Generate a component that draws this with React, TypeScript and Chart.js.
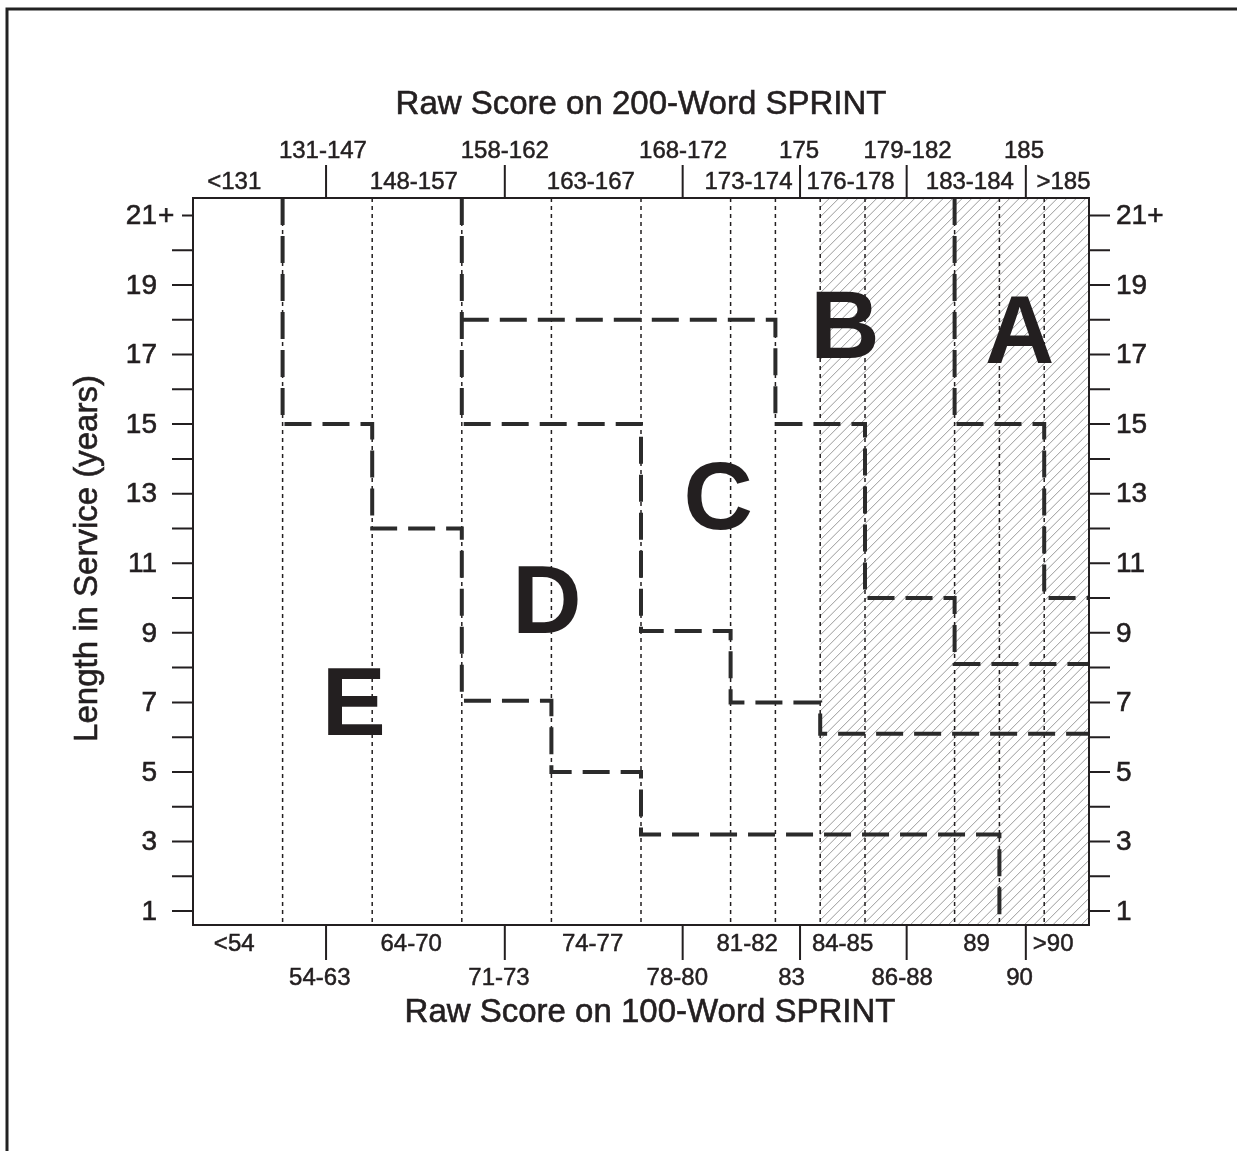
import React, { useEffect, useRef } from "react";
import { Chart, registerables } from "chart.js";

Chart.register(...registerables);

// ---- scale ranges (x: half-column units of the score scale, y: years of service)
const xRange = [0, 20];
const yRange = [0.6, 21.5];

// ---- y axis
const yTickValues = [1, 3, 5, 7, 9, 11, 13, 15, 17, 19, 21];
const yTickLabels = ["1", "3", "5", "7", "9", "11", "13", "15", "17", "19", "21+"];
const yMinorTicks = [2, 4, 6, 8, 10, 12, 14, 16, 18, 20];

// ---- score column boundaries (dotted) and hatched zone
const gridColumns = [2, 4, 6, 8, 10, 12, 13, 14, 15, 17, 18, 19];
const hatchZone = [14, 20];

// ---- score axes (top: 200-word SPRINT, bottom: 100-word SPRINT)
const scoreTicks = [2.97, 6.96, 10.93, 13.55, 15.93, 18.59];
const top200AtTicks = ["131-147", "158-162", "168-172", "175", "179-182", "185"];
const top200AtTicksPos = [2.9, 6.96, 10.94, 13.53, 15.95, 18.55];
const top200Between = ["<131", "148-157", "163-167", "173-174", "176-178", "183-184", ">185"];
const top200BetweenPos = [0.92, 4.93, 8.88, 12.4, 14.68, 17.34, 19.43];
const bottom100AtTicks = ["54-63", "71-73", "78-80", "83", "86-88", "90"];
const bottom100AtTicksPos = [2.83, 6.83, 10.81, 13.36, 15.83, 18.45];
const bottom100Between = ["<54", "64-70", "74-77", "81-82", "84-85", "89", ">90"];
const bottom100BetweenPos = [0.92, 4.87, 8.92, 12.37, 14.5, 17.49, 19.2];

// ---- category boundaries (score column, years)
const boundaryED = [
  { x: 2, y: 21.5 }, { x: 2, y: 15 }, { x: 4, y: 15 }, { x: 4, y: 12 }, { x: 6, y: 12 },
  { x: 6, y: 7.05 }, { x: 8, y: 7.05 }, { x: 8, y: 5 }, { x: 10, y: 5 }, { x: 10, y: 3.2 },
  { x: 18, y: 3.2 }, { x: 18, y: 0.6 },
];
const boundaryDC = [
  { x: 6, y: 21.5 }, { x: 6, y: 15 }, { x: 10, y: 15 }, { x: 10, y: 9.05 }, { x: 12, y: 9.05 },
  { x: 12, y: 7 }, { x: 14, y: 7 }, { x: 14, y: 6.1 }, { x: 20, y: 6.1 },
];
const boundaryCB = [
  { x: 6, y: 18 }, { x: 13, y: 18 }, { x: 13, y: 15 }, { x: 15, y: 15 }, { x: 15, y: 10 },
  { x: 17, y: 10 }, { x: 17, y: 8.1 }, { x: 20, y: 8.1 },
];
const boundaryBA = [
  { x: 17, y: 21.5 }, { x: 17, y: 15 }, { x: 19, y: 15 }, { x: 19, y: 10 }, { x: 20, y: 10 },
];

// ---- category letters
const regionNames = ["A", "B", "C", "D", "E"];
const regionX = [18.45, 14.55, 11.72, 7.9, 3.59];
const regionY = [17.6, 17.75, 12.82, 9.84, 6.91];

// ---- titles
const titleTop = "Raw Score on 200-Word SPRINT";
const titleBottom = "Raw Score on 100-Word SPRINT";
const titleLeft = "Length in Service (years)";

const INK = "#231f20";
const FONT = "'Liberation Sans', Arial, Helvetica, sans-serif";

function heavyText(ctx: CanvasRenderingContext2D, s: string, px: number, py: number) {
  ctx.fillText(s, px, py);
  ctx.strokeText(s, px, py);
}

const overlayPlugin = {
  id: "sprintOverlay",
  beforeDatasetsDraw(chart: any) {
    const { ctx, chartArea: a } = chart;
    const x = chart.scales.x;
    const hx0 = x.getPixelForValue(hatchZone[0]);
    const hx1 = x.getPixelForValue(hatchZone[1]);
    ctx.save();
    ctx.beginPath();
    ctx.rect(hx0, a.top, hx1 - hx0, a.bottom - a.top);
    ctx.clip();
    ctx.strokeStyle = "#9a9a9a";
    ctx.lineWidth = 1;
    const h = a.bottom - a.top;
    for (let sx = hx0 - h; sx < hx1 + h; sx += 9.5) {
      ctx.beginPath();
      ctx.moveTo(sx, a.bottom);
      ctx.lineTo(sx + h, a.top);
      ctx.stroke();
    }
    ctx.restore();

    ctx.save();
    ctx.setLineDash([4, 4]);
    ctx.lineWidth = 1.5;
    ctx.strokeStyle = INK;
    for (const g of gridColumns) {
      const px = x.getPixelForValue(g);
      ctx.beginPath();
      ctx.moveTo(px, a.top);
      ctx.lineTo(px, a.bottom);
      ctx.stroke();
    }
    ctx.restore();
  },
  afterDatasetsDraw(chart: any) {
    const { ctx, chartArea: a } = chart;
    const x = chart.scales.x;
    const y = chart.scales.y;
    ctx.save();

    // region letters
    ctx.fillStyle = INK;
    ctx.font = `bold 96px ${FONT}`;
    ctx.textAlign = "center";
    ctx.textBaseline = "middle";
    regionNames.forEach((n, i) => {
      ctx.fillText(n, x.getPixelForValue(regionX[i]), y.getPixelForValue(regionY[i]) + 3);
    });

    // plot border
    ctx.strokeStyle = INK;
    ctx.lineWidth = 2;
    ctx.strokeRect(a.left, a.top, a.right - a.left, a.bottom - a.top);

    // y ticks
    const allY = [...yTickValues, ...yMinorTicks];
    ctx.lineWidth = 2;
    allY.forEach((v) => {
      const py = y.getPixelForValue(v);
      const idx = yTickValues.indexOf(v);
      const hasSuffix = idx >= 0 && yTickLabels[idx].endsWith("+");
      ctx.beginPath();
      ctx.moveTo(a.left - (hasSuffix ? 11 : 21), py);
      ctx.lineTo(a.left, py);
      ctx.moveTo(a.right, py);
      ctx.lineTo(a.right + 21, py);
      ctx.stroke();
    });

    ctx.strokeStyle = INK;
    ctx.lineWidth = 0.6;
    ctx.font = `28px ${FONT}`;
    ctx.textBaseline = "middle";
    yTickValues.forEach((v, i) => {
      const py = y.getPixelForValue(v) + 1;
      const lab = yTickLabels[i];
      const num = lab.replace("+", "");
      ctx.textAlign = "right";
      heavyText(ctx, num, a.left - 36, py);
      if (lab.endsWith("+")) {
        ctx.textAlign = "left";
        heavyText(ctx, "+", a.left - 35, py);
      }
      ctx.textAlign = "left";
      heavyText(ctx, lab, a.right + 27, py);
    });

    // score axis ticks
    ctx.lineWidth = 2;
    scoreTicks.forEach((t) => {
      const px = x.getPixelForValue(t);
      ctx.beginPath();
      ctx.moveTo(px, a.top);
      ctx.lineTo(px, a.top - 33);
      ctx.moveTo(px, a.bottom);
      ctx.lineTo(px, a.bottom + 35);
      ctx.stroke();
    });

    ctx.lineWidth = 0.5;
    ctx.font = `24px ${FONT}`;
    ctx.textAlign = "center";
    ctx.textBaseline = "middle";
    top200AtTicks.forEach((l, i) => heavyText(ctx, l, x.getPixelForValue(top200AtTicksPos[i]), a.top - 47));
    top200Between.forEach((l, i) => heavyText(ctx, l, x.getPixelForValue(top200BetweenPos[i]), a.top - 16));
    bottom100Between.forEach((l, i) => heavyText(ctx, l, x.getPixelForValue(bottom100BetweenPos[i]), a.bottom + 19));
    bottom100AtTicks.forEach((l, i) => heavyText(ctx, l, x.getPixelForValue(bottom100AtTicksPos[i]), a.bottom + 53));

    // titles
    ctx.lineWidth = 0.6;
    ctx.font = `33px ${FONT}`;
    const cx = (a.left + a.right) / 2;
    heavyText(ctx, titleTop, cx, a.top - 93);
    heavyText(ctx, titleBottom, cx + 9, a.bottom + 88);
    ctx.save();
    ctx.translate(88, (a.top + a.bottom) / 2 - 3);
    ctx.rotate(-Math.PI / 2);
    heavyText(ctx, titleLeft, 0, 0);
    ctx.restore();

    // outer frame (top and left edges)
    ctx.strokeStyle = "#222";
    ctx.lineWidth = 3;
    ctx.beginPath();
    ctx.moveTo(7, chart.height);
    ctx.lineTo(7, 9);
    ctx.lineTo(chart.width, 9);
    ctx.stroke();

    ctx.restore();
  },
};

const lineStyle = {
  borderColor: "#2b2b2b",
  borderWidth: 4,
  borderDash: [27, 11],
  pointRadius: 0,
  fill: false,
  tension: 0,
};

export default function App() {
  const ref = useRef<HTMLCanvasElement | null>(null);
  useEffect(() => {
    document.body.style.margin = "0";
    const canvas = ref.current;
    if (!canvas) return;
    const chart = new Chart(canvas, {
      type: "line",
      data: {
        datasets: [
          { label: "E/D", data: boundaryED, ...lineStyle },
          { label: "D/C", data: boundaryDC, ...lineStyle },
          { label: "C/B", data: boundaryCB, ...lineStyle },
          { label: "B/A", data: boundaryBA, ...lineStyle },
        ] as any,
      },
      options: {
        responsive: false,
        animation: false,
        devicePixelRatio: 1,
        layout: { padding: { left: 193, right: 148, top: 198, bottom: 226 } },
        plugins: { legend: { display: false }, tooltip: { enabled: false }, title: { display: false } },
        scales: {
          x: { type: "linear", min: xRange[0], max: xRange[1], display: false },
          y: { type: "linear", min: yRange[0], max: yRange[1], display: false },
        },
      },
      plugins: [overlayPlugin],
    });
    return () => chart.destroy();
  }, []);
  return (
    <div style={{ width: 1237, height: 1151, background: "#fff" }}>
      <canvas ref={ref} width={1237} height={1151} style={{ display: "block" }} />
    </div>
  );
}
